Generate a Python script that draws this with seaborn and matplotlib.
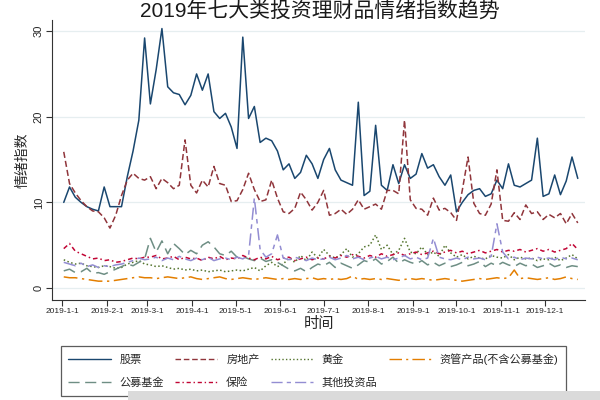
import pandas as pd
import matplotlib.pyplot as plt
from matplotlib.lines import Line2D
from matplotlib.patches import Rectangle
import seaborn as sns

# sampling dates (every 4 days through the year)
dates = pd.date_range("2019-01-02", periods=90, freq="4D")

stock = [10.0, 11.8, 10.6, 10.0, 9.5, 9.2, 9.0, 11.8, 9.5, 9.5, 9.5, 13.0, 16.0, 19.6, 29.2,
         21.5, 25.5, 30.3, 23.5, 22.8, 22.6, 21.4, 22.5, 25.0, 23.1, 25.0, 20.6, 19.8, 20.4,
         18.8, 16.3, 29.3, 19.8, 21.2, 17.0, 17.5, 17.2, 16.0, 13.8, 14.5, 12.8, 13.5, 15.5,
         14.5, 12.8, 15.0, 16.3, 13.8, 12.6, 12.3, 12.0, 21.7, 10.8, 11.3, 19.0, 12.0, 11.4,
         14.4, 12.2, 14.4, 12.8, 13.3, 15.7, 14.0, 14.4, 13.0, 12.0, 13.2, 8.9, 10.0, 10.9,
         11.4, 11.6, 10.7, 11.0, 12.6, 11.6, 14.5, 12.0, 11.8, 12.2, 12.6, 17.5, 10.7, 11.0,
         13.2, 10.9, 12.5, 15.3, 12.8]
estate = [15.9, 12.2, 11.1, 10.2, 9.5, 9.0, 8.9, 8.2, 7.0, 8.5, 10.8, 12.6, 13.4, 12.8, 12.6,
          13.0, 11.6, 12.8, 12.3, 11.6, 12.0, 17.3, 12.0, 11.1, 12.6, 11.8, 14.2, 12.2, 12.0,
          10.1, 10.2, 11.5, 13.4, 11.5, 10.1, 10.3, 12.6, 10.5, 8.9, 8.7, 9.3, 11.2, 10.3, 9.1,
          10.0, 11.4, 8.5, 8.7, 9.2, 8.6, 9.2, 10.3, 9.2, 9.5, 9.8, 9.2, 11.4, 11.4, 11.0,
          19.6, 10.3, 9.3, 9.2, 8.5, 10.5, 9.1, 9.3, 8.8, 7.9, 11.4, 15.3, 9.9, 8.7, 8.5, 9.8,
          13.8, 7.9, 7.8, 8.8, 8.0, 9.7, 8.7, 8.9, 8.0, 8.6, 8.2, 8.7, 7.5, 8.7, 7.6]
gold = [3.3, 3.0, 2.8, 2.9, 2.6, 2.5, 2.4, 2.6, 2.5, 2.3, 2.4, 2.8, 3.0, 3.2, 2.8,
        2.7, 2.5, 2.6, 2.4, 2.2, 2.3, 2.1, 2.2, 2.0, 2.1, 1.9, 2.0, 2.1, 1.9, 2.0,
        2.1, 2.0, 2.2, 2.4, 2.0, 2.6, 3.0, 2.5, 2.8, 3.5, 3.0, 3.8, 3.2, 4.2, 3.5,
        4.5, 3.8, 3.5, 3.9, 4.6, 3.6, 4.0, 4.8, 5.0, 6.2, 4.5, 5.0, 3.9, 4.4, 5.8, 4.2,
        4.0, 4.8, 3.9, 4.2, 3.7, 5.0, 4.1, 3.6, 3.9, 3.4, 3.7, 3.5, 3.4, 3.8, 3.6,
        3.5, 3.9, 3.3, 3.6, 3.4, 3.5, 3.2, 3.4, 3.3, 3.6, 3.2, 3.5, 3.9, 3.4]
asset_mgmt = [1.3, 1.2, 1.2, 1.1, 1.0, 0.9, 0.8, 0.8, 0.8, 0.9, 1.0, 1.1, 1.2, 1.3, 1.2,
              1.2, 1.1, 1.2, 1.3, 1.2, 1.1, 1.2, 1.3, 1.1, 1.0, 1.1, 1.2, 1.3, 1.1, 1.0,
              1.1, 1.2, 1.1, 1.0, 1.1, 1.2, 1.1, 1.0, 1.1, 1.0, 1.1, 1.0, 1.1, 1.2, 1.0,
              1.1, 1.0, 1.1, 1.0, 1.1, 1.4, 1.0, 1.1, 1.0, 1.1, 1.0, 1.1, 1.0, 0.9, 1.0, 1.1,
              1.0, 1.1, 1.0, 0.9, 1.0, 1.1, 1.0, 0.9, 0.8, 0.9, 1.0, 1.1, 1.0, 1.1, 1.2,
              1.1, 1.2, 2.1, 1.1, 1.2, 1.1, 1.0, 1.1, 1.2, 1.0, 1.1, 1.3, 1.1, 1.0]
fund = [2.0, 2.2, 1.8, 1.9, 2.3, 1.7, 1.8, 1.6, 1.9, 2.2, 2.5, 2.8, 2.6, 3.0, 3.4,
        5.8, 4.2, 5.5, 4.0, 5.2, 4.6, 3.9, 4.4, 4.0, 5.0, 5.4, 4.8, 4.0, 3.8, 4.3,
        3.6, 3.7, 3.4, 3.2, 3.5, 3.1, 3.3, 3.0, 2.6, 2.2, 2.0, 2.3, 1.9, 2.4, 2.8,
        2.6, 3.0, 2.4, 2.9, 2.6, 2.3, 2.7, 3.2, 3.0, 3.4, 2.8, 3.1, 3.6, 2.9, 3.3, 3.0,
        2.8, 3.2, 2.7, 3.0, 2.6, 2.9, 2.5, 2.7, 3.0, 2.6, 2.8, 3.1, 2.5, 2.9, 2.6,
        3.0, 2.7, 2.5, 2.9, 2.6, 2.8, 2.4, 2.6, 2.9, 2.5, 2.7, 2.4, 2.6, 2.5]
insurance = [4.6, 5.2, 4.3, 4.0, 3.7, 3.4, 3.5, 3.2, 3.3, 3.0, 3.1, 3.3, 3.5, 3.4, 3.6,
             3.6, 3.8, 3.4, 3.5, 3.7, 3.3, 3.6, 3.4, 3.5, 3.2, 3.6, 3.4, 3.7, 3.3, 3.5,
             3.4, 3.8, 3.5, 3.3, 3.6, 3.4, 3.7, 3.3, 3.5, 3.6, 3.2, 3.4, 3.6, 3.3, 3.5,
             3.4, 3.7, 3.5, 3.8, 3.6, 3.9, 3.7, 3.5, 3.8, 3.6, 4.0, 3.7, 3.9, 4.1, 3.8, 4.0,
             4.2, 3.9, 4.1, 4.3, 4.0, 4.2, 4.4, 4.1, 4.3, 4.0, 4.2, 4.4, 4.1, 4.3, 4.5,
             4.2, 4.4, 4.3, 4.5, 4.2, 4.4, 4.6, 4.3, 4.5, 4.2, 4.4, 4.6, 5.2, 4.5]
other = [3.0, 2.8, 2.6, 2.9, 2.5, 2.7, 2.4, 2.6, 2.5, 2.7, 2.8, 3.0, 3.2, 3.5, 3.3,
         3.4, 3.6, 3.2, 3.5, 3.3, 3.7, 3.4, 3.2, 3.5, 3.3, 3.6, 3.2, 3.4, 3.5, 3.3,
         3.6, 3.4, 3.8, 10.5, 4.5, 3.6, 4.0, 6.2, 3.5, 3.3, 3.6, 3.4, 3.2, 3.5, 3.3,
         3.4, 3.6, 3.3, 3.5, 3.8, 3.4, 3.6, 3.3, 3.5, 3.7, 3.4, 3.6, 3.3, 3.5, 3.8, 3.4,
         3.6, 3.3, 3.5, 5.8, 3.6, 3.4, 3.3, 3.5, 3.3, 3.6, 3.4, 3.5, 3.3, 3.7, 7.5,
         4.2, 3.4, 3.6, 3.3, 3.5, 3.4, 3.6, 3.4, 3.5, 3.3, 3.6, 3.4, 3.5, 3.3]

names = ["股票", "房地产", "黄金", "资管产品(不含公募基金)", "公募基金", "保险", "其他投资品"]
values = [stock, estate, gold, asset_mgmt, fund, insurance, other]
tick_dates = pd.to_datetime(["2019-01-01", "2019-02-01", "2019-03-01", "2019-04-01",
                             "2019-05-01", "2019-06-01", "2019-07-01", "2019-08-01",
                             "2019-09-01", "2019-10-01", "2019-11-01", "2019-12-01"])
tick_labels = ["2019-1-1", "2019-2-1", "2019-3-1", "2019-4-1", "2019-5-1", "2019-6-1",
               "2019-7-1", "2019-8-1", "2019-9-1", "2019-10-1", "2019-11-1", "2019-12-1"]

colors = dict(zip(names, ["#1a476f", "#90353b", "#55752f", "#e37e00", "#6e8e84", "#c10534", "#938dd2"]))
dashes = dict(zip(names, ["", (4, 2), (1, 1.6), (9, 3, 1.5, 3), (8, 4), (3, 2, 1, 2), (8, 3, 3, 3)]))

df = pd.DataFrame({
    "时间": list(dates) * len(names),
    "情绪指数": [v for vals in values for v in vals],
    "类别": [n for n in names for _ in dates],
})

sns.set_style("white")
plt.rcParams["font.family"] = ["Liberation Sans", "Noto Sans CJK SC", "DejaVu Sans"]

fig = plt.figure(figsize=(6, 4), dpi=100)
ax = fig.add_axes([0.087, 0.25, 0.888, 0.70])

sns.lineplot(data=df, x="时间", y="情绪指数", hue="类别", style="类别", hue_order=names,
             style_order=names, palette=colors, dashes=dashes, linewidth=1.1,
             legend=False, ax=ax)

ax.set_ylim(-1.4, 31.3)
ax.set_xlim(pd.Timestamp("2018-12-25"), pd.Timestamp("2019-12-29"))
ax.set_yticks([0, 10, 20, 30])
ax.set_yticklabels(["0", "10", "20", "30"], rotation=90, va="center", fontsize=8)
ax.set_xticks(tick_dates)
ax.set_xticklabels(tick_labels, fontsize=6)
ax.yaxis.grid(True, color="#e6eef0", linewidth=0.9)
ax.xaxis.grid(False)
for s in ["top", "right"]:
    ax.spines[s].set_visible(False)
for s in ["left", "bottom"]:
    ax.spines[s].set_color("#333333")
    ax.spines[s].set_linewidth(0.8)
ax.tick_params(axis="both", bottom=True, left=True, direction="out", length=4,
               width=0.8, color="#333333", pad=2)
ax.set_xlabel("时间", fontsize=11, labelpad=1)
ax.set_ylabel("情绪指数", fontsize=10, labelpad=3)

fig.text(0.533, 0.997, "2019年七大类投资理财品情绪指数趋势", ha="center", va="top",
         fontsize=15, color="#1a1a1a")

# legend laid out row by row like the original (matplotlib fills columns first)
order = [0, 4, 1, 5, 2, 6, 3]
handles = [Line2D([], [], color=colors[names[i]], linewidth=1.0,
                  linestyle=(0, dashes[names[i]]) if dashes[names[i]] else "-") for i in order]
labels = [names[i] for i in order]
leg = fig.legend(handles, labels, ncol=4, loc="upper left", bbox_to_anchor=(55 / 600, 1 - 340 / 400),
                 fontsize=8, handlelength=3.8, columnspacing=1.0, labelspacing=1.1,
                 borderpad=0.7, frameon=True, fancybox=False, edgecolor="#333333")
leg.get_frame().set_linewidth(0.9)

fig.patches.append(Rectangle((128 / 600, 0), 1, 9 / 400, transform=fig.transFigure,
                             facecolor="#dadada", edgecolor="none", zorder=10))

fig.savefig("out.png", dpi=100)
